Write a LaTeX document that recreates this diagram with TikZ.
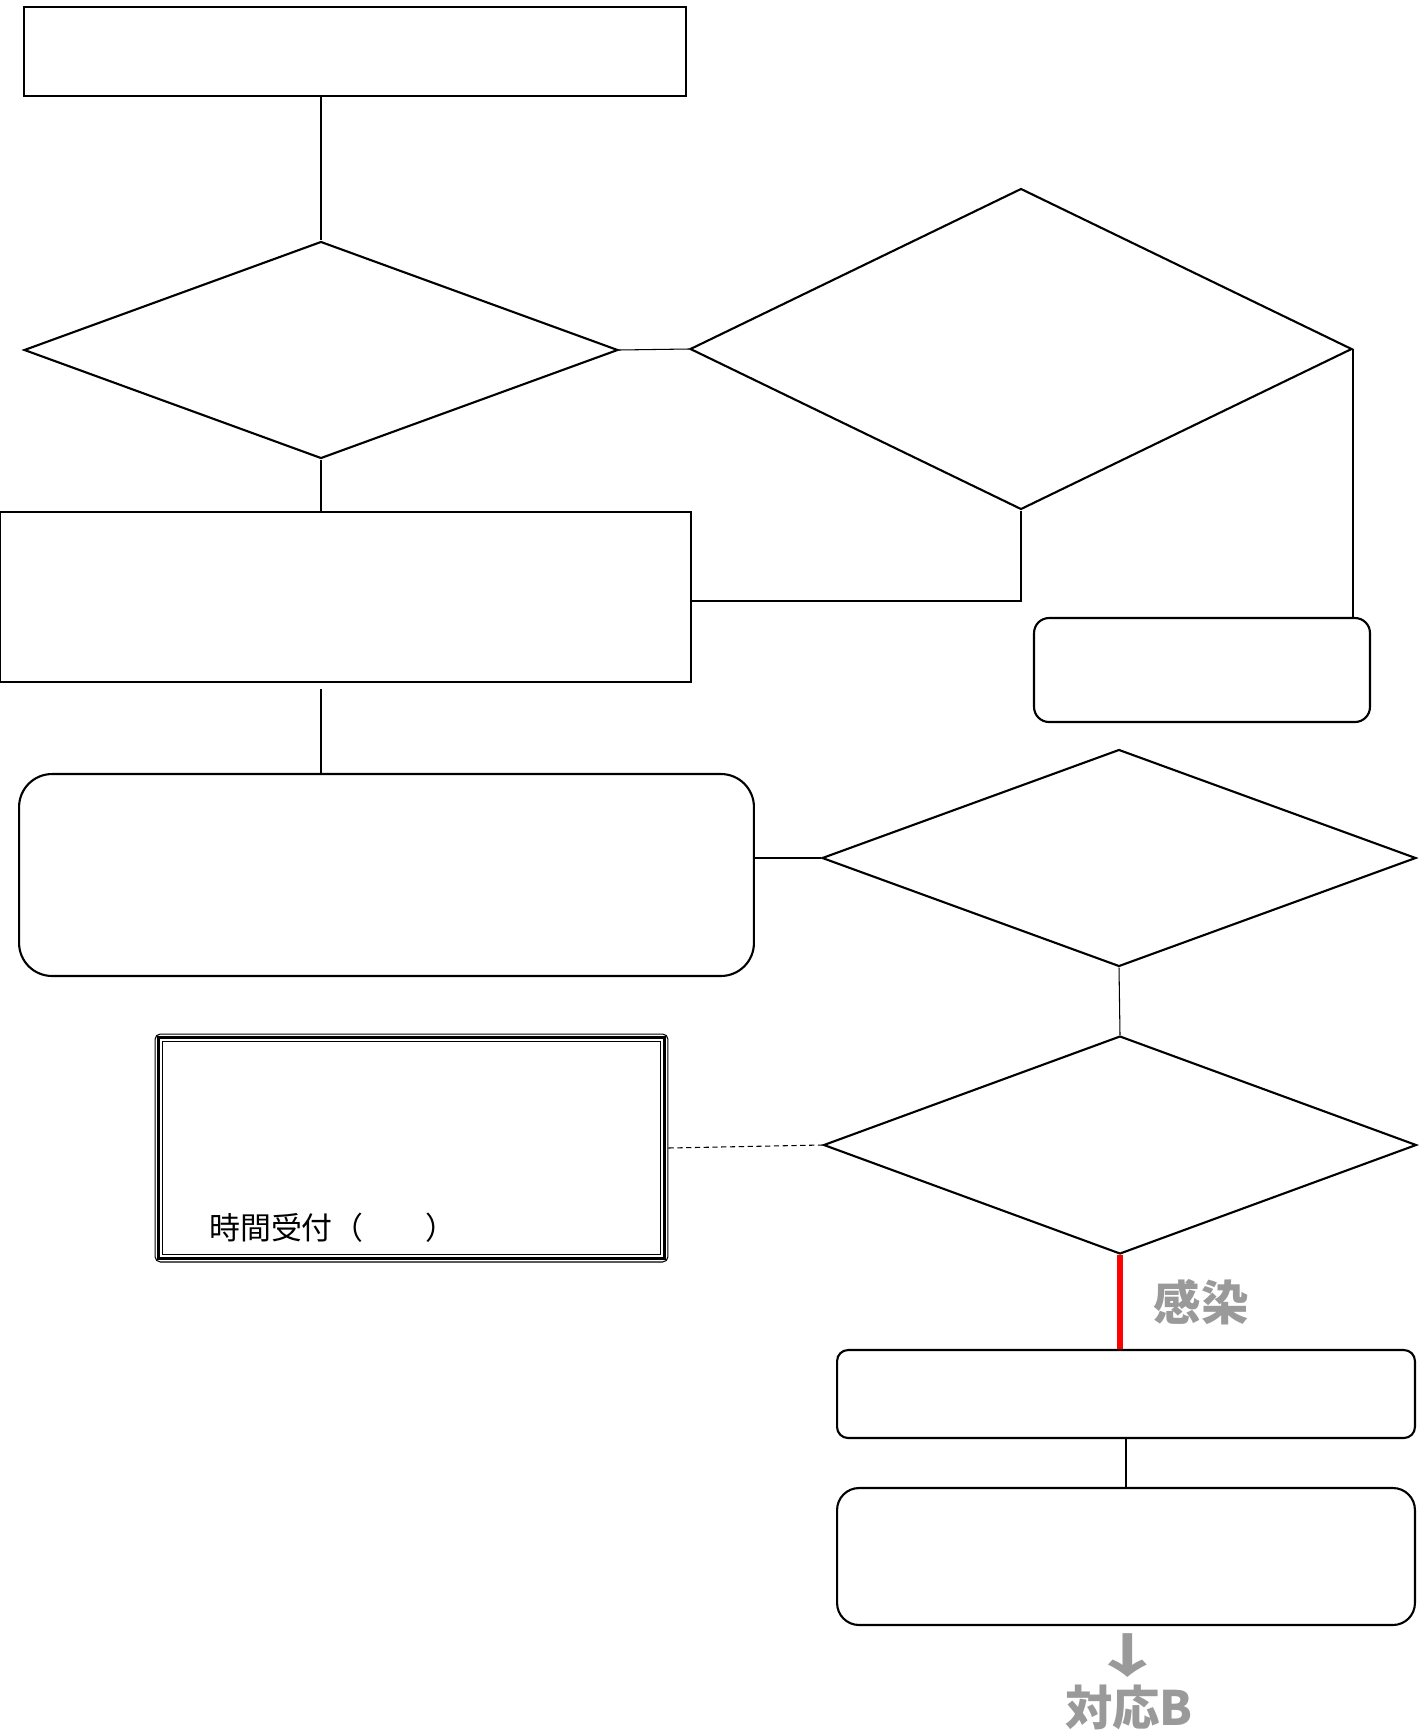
\documentclass[tikz,border=0pt]{standalone}
\usepackage{fontspec}
\newfontfamily\jpfont{Noto Sans CJK JP}
\usetikzlibrary{shapes.geometric}
\definecolor{softgray}{HTML}{9A9A9A}
\tikzset{
    box/.style={draw,line width=1.2pt,rectangle,inner sep=0pt},
    roundbox/.style={box,rounded corners=#1},
    decision/.style={draw,line width=1.2pt,diamond,inner sep=0pt},
    link/.style={line width=0.6pt},
    bigtag/.style={text=softgray,font=\jpfont\bfseries\fontsize{27}{30}\selectfont},
}
\begin{document}
\begin{tikzpicture}[x=0.02cm,y=-0.02cm,font=\jpfont]
    \useasboundingbox (0,0) rectangle (1418,1734);

    \node[box,minimum width=13.24cm,minimum height=1.78cm]
        (topbox) at (355,51.5) {};
    \node[decision,minimum width=11.88cm,minimum height=4.34cm]
        (checkA) at (321,350) {};
    \node[decision,minimum width=13.24cm,minimum height=6.42cm]
        (checkB) at (1021,349) {};
    \node[box,minimum width=13.82cm,minimum height=3.40cm]
        (midbox) at (345.5,597) {};
    \node[roundbox=0.30cm,minimum width=6.72cm,minimum height=2.08cm]
        (sidebox) at (1202,670) {};
    \node[roundbox=0.66cm,minimum width=14.70cm,minimum height=4.04cm]
        (guidebox) at (386.5,875) {};
    \node[decision,minimum width=11.88cm,minimum height=4.34cm]
        (checkC) at (1119,858) {};
    \node[decision,minimum width=11.86cm,minimum height=4.36cm]
        (checkD) at (1120,1145) {};
    \node[roundbox=0.22cm,minimum width=11.56cm,minimum height=1.76cm]
        (notify) at (1126,1394) {};
    \node[roundbox=0.44cm,minimum width=11.56cm,minimum height=2.74cm]
        (action) at (1126,1556.5) {};

    % triple frame
    \node[draw,line width=0.6pt,rounded corners=3pt,inner sep=0pt,
          minimum width=10.26cm,minimum height=4.56cm]
        (hours) at (411.5,1148) {};
    \draw[line width=1.2pt]
        ([shift={(4,4)}]hours.north west) rectangle ([shift={(-4,-4)}]hours.south east);
    \draw[line width=0.6pt]
        ([shift={(8,8)}]hours.north west) rectangle ([shift={(-8,-8)}]hours.south east);
    \node[anchor=west,font=\jpfont\fontsize{17.6}{20}\selectfont]
        (hourslabel) at (203,1228) {時間受付（　　）};

    \draw[link] (topbox.south -| checkA.north) -- (checkA.north);
    \draw[link] (checkA.east) -- (checkB.west);
    \draw[link] (checkA.south) -- (checkA.south |- midbox.north);
    \draw[link] ([yshift=-0.08cm]midbox.east) -| (checkB.south);
    \draw[link] (checkB.east) -- (checkB.east |- sidebox.north);
    \draw[link,shorten <=0.12cm] (checkA.south |- midbox.south) -- (checkA.south |- guidebox.north);
    \draw[link] (checkC.west -| guidebox.east) -- (checkC.west);
    \draw[link] (checkC.south) -- (checkD.north);
    \draw[link,densely dashed] (hours.east) -- (checkD.west);
    \draw[red,line width=3.2pt] (checkD.south) -- (checkD.south |- notify.north);
    \draw[link] (notify.south) -- (action.north);

    \node[bigtag] (infected) at (1201,1302) {感染};
    \node[bigtag,xscale=1.7] (downmark) at (1128,1656) {↓};
    \node[bigtag] (responseB) at (1129,1707) {対応B};
\end{tikzpicture}
\end{document}
